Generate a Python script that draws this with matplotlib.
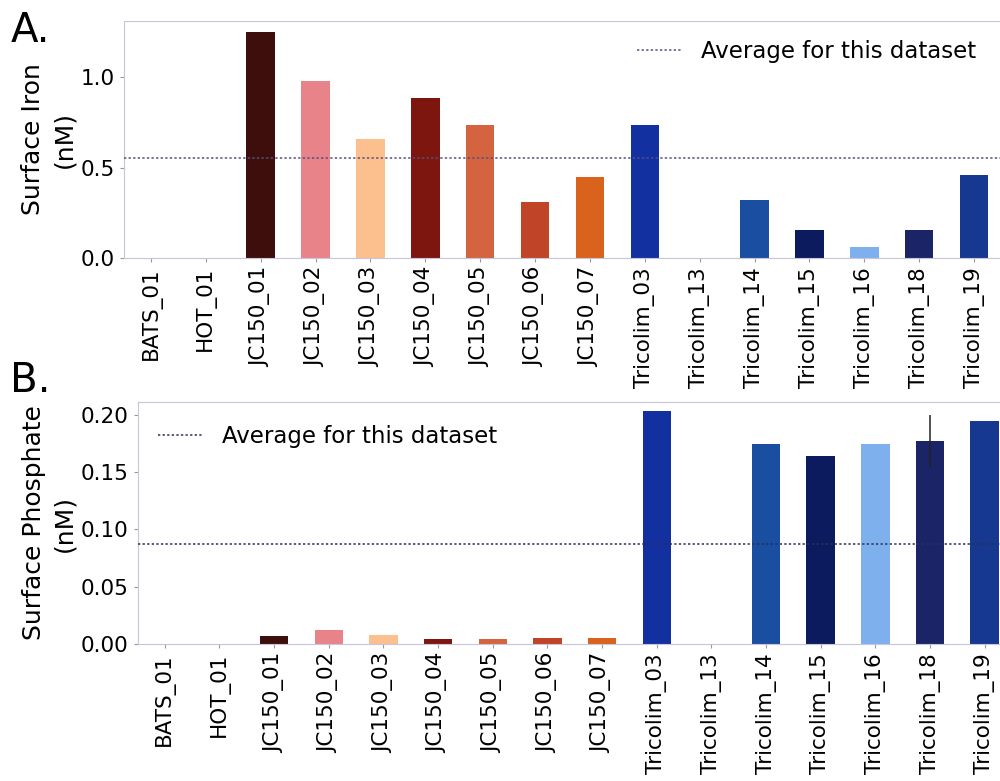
import numpy as np
import matplotlib
matplotlib.use("Agg")
import matplotlib.pyplot as plt

stations = ["BATS_01", "HOT_01", "JC150_01", "JC150_02", "JC150_03", "JC150_04",
            "JC150_05", "JC150_06", "JC150_07", "Tricolim_03", "Tricolim_13",
            "Tricolim_14", "Tricolim_15", "Tricolim_16", "Tricolim_18", "Tricolim_19"]

iron = [np.nan, np.nan, 1.25, 0.98, 0.66, 0.885, 0.735, 0.31, 0.45, 0.735,
        np.nan, 0.32, 0.155, 0.06, 0.155, 0.46]

phosphate = [np.nan, np.nan, 0.007, 0.012, 0.008, 0.004, 0.0045, 0.005, 0.005,
             0.2035, np.nan, 0.174, 0.164, 0.174, 0.177, 0.194]
phosphate_err = [0, 0, 0, 0, 0, 0, 0, 0, 0, 0, 0, 0, 0, 0, 0.023, 0]

colors = ["#ffffff", "#ffffff", "#3e0e0c", "#e8838a", "#fbc08e", "#7e1610",
          "#d4643f", "#c04428", "#d9621c", "#1230a0", "#ffffff", "#1a4ea0",
          "#0c1a5e", "#7fb0ee", "#1c2468", "#173890"]

plt.rcParams["font.family"] = "DejaVu Sans"
fig = plt.figure(figsize=(10, 7.81), dpi=100)
W, H = 1000, 781


def px_axes(x0, y0, x1, y1):
    return fig.add_axes([x0 / W, 1 - y1 / H, (x1 - x0) / W, (y1 - y0) / H])


ax1 = px_axes(123.5, 21, 1001.5, 258)
ax2 = px_axes(137.5, 402, 1012, 644)

x = np.arange(len(stations))
spine_col = "#c8c4dc"


def style(ax):
    for s in ax.spines.values():
        s.set_color(spine_col)
        s.set_linewidth(0.8)
    ax.set_xticks(x)
    ax.set_xticklabels(stations, rotation=90, fontsize=15.5)
    ax.tick_params(axis="both", colors="#999999", labelcolor="black", labelsize=15.5, length=3)
    ax.set_xlim(-0.5, len(stations) - 0.5)


legend_kw = dict(frameon=False, fontsize=16.5, handlelength=1.9, handletextpad=0.9)

# Panel A: surface iron
ax1.bar(x, np.nan_to_num(iron), width=0.52, color=colors, zorder=2)
ax1.axhline(np.nanmean(iron), color="#55507f", linestyle=(0, (1.5, 1.5)), lw=1.1,
            zorder=3, label="Average for this dataset")
ax1.set_ylim(0, 1.31)
ax1.set_yticks([0.0, 0.5, 1.0])
ax1.set_yticklabels(["0.0", "0.5", "1.0"])
ax1.set_ylabel("Surface Iron\n(nM)", fontsize=18, linespacing=1.35, labelpad=3)
style(ax1)
ax1.legend(loc="upper right", bbox_to_anchor=(0.995, 1.008), **legend_kw)
fig.text(0.011, 1 - 42 / H, "A.", fontsize=29, ha="left", va="baseline")

# Panel B: surface phosphate
ax2.bar(x, np.nan_to_num(phosphate), width=0.52, color=colors, zorder=2,
        yerr=phosphate_err, error_kw=dict(ecolor="#222222", elinewidth=1.1, capsize=0))
ax2.axhline(np.nanmean(phosphate), color="#2a2f5a", linestyle=(0, (1.5, 1.5)), lw=1.1,
            zorder=3, label="Average for this dataset")
ax2.set_ylim(0, 0.211)
ax2.set_yticks([0.0, 0.05, 0.10, 0.15, 0.20])
ax2.set_yticklabels(["0.00", "0.05", "0.10", "0.15", "0.20"])
ax2.set_ylabel("Surface Phosphate\n(nM)", fontsize=18, linespacing=1.35, labelpad=3)
style(ax2)
ax2.legend(loc="upper left", bbox_to_anchor=(0.0, 0.99), **legend_kw)
fig.text(0.010, 1 - 392 / H, "B.", fontsize=29, ha="left", va="baseline")

fig.savefig("out.png", dpi=100)
